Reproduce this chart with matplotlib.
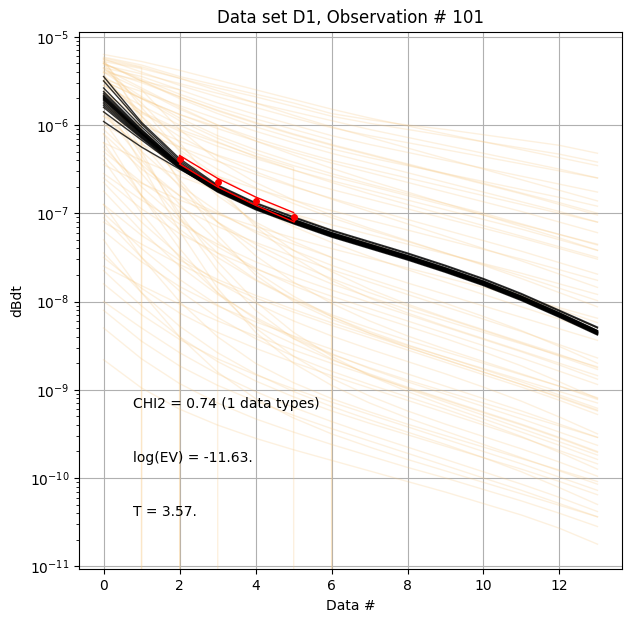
import numpy as np
from matplotlib import pyplot as plt

# data index (gate number)
data_id = np.arange(14)

# log10(0) -> curve value is exactly zero for that gate
Z = -np.inf

# prior realisations, log10(dBdt)
prior_slow = [
    [-5.23, -5.32, -5.45, -5.55, -5.65, -5.75, -5.87, -5.94, -6.00, -6.05, -6.11, -6.17, -6.23, -6.32],
    [-5.28, -5.36, -5.47, -5.58, -5.68, -5.79, -5.90, -5.98, -6.05, -6.12, -6.19, -6.26, -6.33, -6.42],
    [-5.25, -5.40, -5.55, -5.68, -5.80, -5.92, -6.03, -6.12, -6.20, -6.28, -6.36, -6.44, -6.52, -6.60],
    [-5.35, -5.45, -5.60, -5.75, -5.88, -6.00, -6.12, -6.22, -6.31, -6.40, -6.49, -6.58, -6.67, -6.76],
    [-5.30, -5.50, -5.70, -5.87, -6.02, -6.15, -6.27, -6.37, -6.46, -6.55, -6.64, -6.73, -6.82, -6.92],
    [-5.40, -5.60, -5.82, -6.00, -6.15, -6.28, -6.40, -6.50, -6.60, -6.70, -6.80, -6.90, -7.00, -7.10],
    [-5.45, -5.70, -5.95, -6.15, -6.32, -6.46, -6.58, -6.69, -6.80, -6.91, -7.02, -7.13, -7.24, -7.35],
    [-5.32, -5.42, -5.53, -5.64, -5.75, -5.85, -5.95, -6.05, -6.14, -6.23, -6.32, -6.41, -6.50, -6.60],
    [-5.20, -5.28, -5.38, -5.49, -5.60, -5.71, -5.82, -5.92, -6.01, -6.10, -6.19, -6.28, -6.37, -6.46],
    [-5.24, -5.34, -5.47, -5.61, -5.75, -5.89, -6.02, -6.14, -6.26, -6.38, -6.50, -6.62, -6.74, -6.86],
]
prior_gentle = [
    [-5.30, -5.50, -5.68, -5.84, -5.98, -6.11, -6.23, -6.34, -6.45, -6.56, -6.67, -6.78, -6.90, -7.02],
    [-5.50, -5.70, -5.88, -6.04, -6.18, -6.31, -6.43, -6.54, -6.65, -6.76, -6.87, -6.98, -7.10, -7.22],
    [-5.65, -5.87, -6.07, -6.24, -6.38, -6.51, -6.63, -6.74, -6.85, -6.96, -7.07, -7.18, -7.30, -7.42],
    [-5.80, -6.00, -6.18, -6.34, -6.48, -6.61, -6.73, -6.84, -6.95, -7.06, -7.17, -7.28, -7.40, -7.52],
    [-6.00, -6.22, -6.42, -6.58, -6.72, -6.85, -6.97, -7.08, -7.19, -7.30, -7.41, -7.52, -7.64, -7.76],
    [-6.20, -6.40, -6.58, -6.74, -6.88, -7.01, -7.13, -7.24, -7.35, -7.46, -7.57, -7.68, -7.80, -7.92],
    [-6.45, -6.66, -6.85, -7.01, -7.15, -7.28, -7.40, -7.51, -7.62, -7.73, -7.84, -7.95, -8.07, -8.19],
    [-5.40, -5.68, -5.92, -6.12, -6.28, -6.42, -6.55, -6.67, -6.78, -6.89, -7.00, -7.12, -7.24, -7.36],
    [-5.38, -5.52, -5.68, -5.83, -5.97, -6.10, -6.22, -6.33, -6.44, -6.55, -6.66, -6.77, -6.88, -7.00],
    [-5.36, -5.58, -5.80, -6.00, -6.18, -6.34, -6.49, -6.63, -6.76, -6.89, -7.02, -7.15, -7.28, -7.42],
    [-5.48, -5.62, -5.78, -5.93, -6.07, -6.20, -6.32, -6.43, -6.54, -6.65, -6.76, -6.87, -6.98, -7.10],
    [-5.90, -6.08, -6.25, -6.41, -6.56, -6.70, -6.83, -6.95, -7.07, -7.19, -7.31, -7.43, -7.56, -7.69],
    [-6.55, -6.85, -7.12, -7.35, -7.55, -7.72, -7.87, -8.01, -8.15, -8.29, -8.43, -8.57, -8.72, -8.88],
    [-7.10, -7.35, -7.58, -7.78, -7.96, -8.12, -8.27, -8.41, -8.55, -8.69, -8.83, -8.97, -9.12, -9.28],
    [-7.60, -7.82, -8.03, -8.22, -8.39, -8.55, -8.70, -8.84, -8.98, -9.12, -9.26, -9.40, -9.55, -9.71],
]
prior_mid = [
    [-5.50, -5.85, -6.13, -6.35, -6.53, -6.69, -6.84, -6.98, -7.12, -7.26, -7.40, -7.54, -7.69, -7.84],
    [-5.90, -6.25, -6.53, -6.75, -6.93, -7.09, -7.24, -7.38, -7.52, -7.66, -7.80, -7.94, -8.09, -8.24],
    [-6.30, -6.65, -6.93, -7.15, -7.33, -7.49, -7.64, -7.78, -7.92, -8.06, -8.20, -8.34, -8.49, -8.64],
    [-6.60, -6.95, -7.23, -7.45, -7.63, -7.79, -7.94, -8.08, -8.22, -8.36, -8.50, -8.64, -8.79, -8.94],
    [-6.90, -7.25, -7.53, -7.75, -7.93, -8.09, -8.24, -8.38, -8.52, -8.66, -8.80, -8.94, -9.09, -9.24],
    [-7.20, -7.55, -7.83, -8.05, -8.23, -8.39, -8.54, -8.68, -8.82, -8.96, -9.10, -9.24, -9.39, -9.54],
    [-7.50, -7.85, -8.13, -8.35, -8.53, -8.69, -8.84, -8.98, -9.12, -9.26, -9.40, -9.54, -9.69, -9.84],
    [-7.80, -8.15, -8.43, -8.65, -8.83, -8.99, -9.14, -9.28, -9.42, -9.56, -9.70, -9.84, -9.99, -10.14],
    [-8.10, -8.45, -8.73, -8.95, -9.13, -9.29, -9.44, -9.58, -9.72, -9.86, -10.00, -10.14, -10.29, -10.44],
    [-5.55, -5.78, -6.00, -6.19, -6.36, -6.51, -6.65, -6.78, -6.90, -7.02, -7.14, -7.26, -7.38, -7.50],
    [-5.62, -5.95, -6.25, -6.50, -6.71, -6.89, -7.05, -7.19, -7.32, -7.45, -7.58, -7.71, -7.85, -7.99],
    [-5.75, -6.10, -6.42, -6.70, -6.94, -7.15, -7.33, -7.49, -7.64, -7.78, -7.92, -8.06, -8.20, -8.35],
    [-6.05, -6.45, -6.80, -7.10, -7.35, -7.56, -7.74, -7.90, -8.05, -8.19, -8.33, -8.47, -8.62, -8.77],
    [-7.00, -7.40, -7.75, -8.04, -8.28, -8.48, -8.66, -8.82, -8.97, -9.11, -9.25, -9.39, -9.54, -9.70],
    [-7.65, -8.05, -8.40, -8.68, -8.90, -9.08, -9.24, -9.38, -9.51, -9.64, -9.77, -9.90, -10.04, -10.19],
    [-8.30, -8.65, -8.93, -9.15, -9.33, -9.48, -9.62, -9.75, -9.88, -10.00, -10.13, -10.26, -10.40, -10.55],
    [-8.00, -8.30, -8.58, -8.82, -9.02, -9.20, -9.36, -9.51, -9.65, -9.79, -9.93, -10.07, -10.22, -10.38],
]
prior_fast = [
    [-5.45, -5.90, -6.28, -6.58, -6.82, -7.02, -7.19, -7.34, -7.48, -7.62, -7.77, -7.93, -8.11, -8.30],
    [-5.85, -6.30, -6.68, -6.98, -7.22, -7.42, -7.59, -7.74, -7.88, -8.02, -8.17, -8.33, -8.51, -8.70],
    [-6.25, -6.70, -7.08, -7.38, -7.62, -7.82, -7.99, -8.14, -8.28, -8.42, -8.57, -8.73, -8.91, -9.10],
    [-6.65, -7.10, -7.48, -7.78, -8.02, -8.22, -8.39, -8.54, -8.68, -8.82, -8.97, -9.13, -9.31, -9.50],
    [-7.05, -7.50, -7.88, -8.18, -8.42, -8.62, -8.79, -8.94, -9.08, -9.22, -9.37, -9.53, -9.71, -9.90],
    [-7.45, -7.90, -8.28, -8.58, -8.82, -9.02, -9.19, -9.34, -9.48, -9.62, -9.77, -9.93, -10.11, -10.30],
    [-8.66, -8.98, -9.22, -9.40, -9.55, -9.68, -9.80, -9.92, -10.04, -10.16, -10.29, -10.42, -10.57, -10.75],
    [-5.30, -5.90, -6.40, -6.80, -7.10, -7.32, -7.50, -7.65, -7.79, -7.92, -8.05, -8.18, -8.31, -8.44],
    [-5.60, -6.20, -6.70, -7.10, -7.40, -7.62, -7.80, -7.95, -8.09, -8.22, -8.35, -8.48, -8.61, -8.74],
    [-5.95, -6.55, -7.05, -7.45, -7.75, -7.97, -8.15, -8.30, -8.44, -8.57, -8.70, -8.83, -8.96, -9.09],
    [-6.40, -7.00, -7.50, -7.90, -8.20, -8.42, -8.60, -8.75, -8.89, -9.02, -9.15, -9.28, -9.41, -9.54],
    [-6.90, -7.50, -8.00, -8.40, -8.70, -8.92, -9.10, -9.25, -9.39, -9.52, -9.65, -9.78, -9.91, -10.04],
    [-7.30, -7.90, -8.40, -8.80, -9.10, -9.32, -9.50, -9.65, -9.79, -9.92, -10.05, -10.18, -10.31, -10.44],
    [-5.25, -5.95, -6.65, -7.25, -7.70, -8.00, -8.20, -8.36, -8.50, -8.63, -8.76, -8.89, -9.02, -9.15],
    [-5.50, -6.30, -7.05, -7.65, -8.10, -8.42, -8.65, -8.83, -8.99, -9.14, -9.29, -9.44, -9.59, -9.74],
    [-5.35, -5.75, -6.20, -6.70, -7.15, -7.50, -7.76, -7.96, -8.13, -8.28, -8.42, -8.56, -8.70, -8.84],
    [-5.70, -6.45, -7.20, -7.85, -8.35, -8.70, -8.95, -9.15, -9.32, -9.47, -9.62, -9.77, -9.92, -10.07],
    [-6.35, -6.80, -7.18, -7.50, -7.76, -7.98, -8.17, -8.34, -8.49, -8.63, -8.77, -8.91, -9.06, -9.21],
    [-6.75, -7.20, -7.60, -7.92, -8.18, -8.40, -8.59, -8.76, -8.91, -9.05, -9.19, -9.33, -9.48, -9.63],
    [-5.28, -5.80, -6.30, -6.75, -7.12, -7.42, -7.66, -7.86, -8.03, -8.18, -8.32, -8.46, -8.60, -8.75],
    [-5.42, -6.05, -6.62, -7.10, -7.48, -7.78, -8.02, -8.22, -8.39, -8.54, -8.68, -8.82, -8.96, -9.11],
    [-5.65, -6.35, -7.00, -7.55, -8.00, -8.35, -8.62, -8.84, -9.02, -9.18, -9.33, -9.48, -9.63, -9.79],
    [-6.10, -6.80, -7.40, -7.90, -8.30, -8.62, -8.87, -9.07, -9.24, -9.39, -9.53, -9.67, -9.82, -9.98],
    [-5.85, -6.40, -6.90, -7.32, -7.66, -7.94, -8.17, -8.36, -8.52, -8.66, -8.80, -8.94, -9.08, -9.23],
]
# realisations that drop to zero
prior_zero = [
    [-5.26, -5.35, Z, Z, Z, Z, Z, Z, Z, Z, Z, Z, Z, Z],
    [Z, -5.60, -6.05, -6.40, -6.65, -6.85, -7.02, -7.17, -7.31, -7.45, -7.59, -7.74, -7.90, -8.06],
    [-5.40, -5.50, -5.60, Z, Z, Z, Z, Z, Z, Z, Z, Z, Z, Z],
    [-6.20, -6.80, -7.30, Z, Z, Z, Z, Z, Z, Z, Z, Z, Z, Z],
    [-5.50, -5.70, -5.88, -6.02, Z, Z, Z, Z, Z, Z, Z, Z, Z, Z],
    [-5.55, -5.85, -6.05, -6.20, -6.35, -6.48, Z, Z, Z, Z, Z, Z, Z, Z],
    [-5.30, -5.48, -5.65, -5.80, -5.93, -6.05, -6.17, Z, Z, Z, Z, Z, Z, Z],
    [-6.10, -6.50, -6.80, -7.00, -7.20, -7.35, -7.50, Z, Z, Z, Z, Z, Z, Z],
]

# posterior realisations, log10(dBdt)
post = [
    [-5.45, -5.97, -6.38, -6.68, -6.88, -7.04, -7.19, -7.32, -7.45, -7.59, -7.74, -7.91, -8.10, -8.29],
    [-5.50, -5.99, -6.40, -6.69, -6.89, -7.05, -7.20, -7.33, -7.46, -7.60, -7.75, -7.92, -8.11, -8.30],
    [-5.58, -6.02, -6.42, -6.70, -6.91, -7.07, -7.22, -7.35, -7.48, -7.62, -7.77, -7.94, -8.13, -8.33],
    [-5.62, -6.05, -6.44, -6.71, -6.91, -7.07, -7.22, -7.35, -7.48, -7.62, -7.77, -7.94, -8.13, -8.33],
    [-5.64, -6.06, -6.44, -6.72, -6.92, -7.08, -7.23, -7.36, -7.49, -7.63, -7.78, -7.95, -8.14, -8.34],
    [-5.66, -6.07, -6.45, -6.72, -6.92, -7.08, -7.23, -7.36, -7.49, -7.63, -7.78, -7.95, -8.14, -8.34],
    [-5.67, -6.08, -6.45, -6.72, -6.92, -7.08, -7.23, -7.36, -7.49, -7.63, -7.78, -7.95, -8.14, -8.34],
    [-5.68, -6.09, -6.46, -6.73, -6.93, -7.09, -7.24, -7.37, -7.50, -7.64, -7.79, -7.96, -8.15, -8.35],
    [-5.69, -6.09, -6.46, -6.73, -6.93, -7.09, -7.24, -7.37, -7.50, -7.64, -7.79, -7.96, -8.15, -8.35],
    [-5.70, -6.10, -6.46, -6.73, -6.93, -7.09, -7.24, -7.37, -7.50, -7.64, -7.79, -7.96, -8.15, -8.35],
    [-5.71, -6.10, -6.47, -6.74, -6.94, -7.10, -7.25, -7.38, -7.51, -7.65, -7.80, -7.97, -8.16, -8.36],
    [-5.72, -6.11, -6.47, -6.74, -6.94, -7.10, -7.25, -7.38, -7.51, -7.65, -7.80, -7.97, -8.16, -8.36],
    [-5.74, -6.12, -6.47, -6.74, -6.94, -7.10, -7.25, -7.38, -7.51, -7.65, -7.80, -7.97, -8.16, -8.36],
    [-5.76, -6.13, -6.48, -6.75, -6.95, -7.11, -7.26, -7.39, -7.52, -7.66, -7.81, -7.98, -8.17, -8.37],
    [-5.78, -6.14, -6.48, -6.75, -6.95, -7.11, -7.26, -7.39, -7.52, -7.66, -7.81, -7.98, -8.17, -8.37],
    [-5.80, -6.15, -6.49, -6.76, -6.96, -7.12, -7.27, -7.40, -7.53, -7.67, -7.82, -7.99, -8.18, -8.38],
    [-5.85, -6.17, -6.49, -6.75, -6.95, -7.11, -7.26, -7.39, -7.52, -7.66, -7.81, -7.98, -8.17, -8.37],
    [-5.96, -6.25, -6.50, -6.74, -6.93, -7.09, -7.24, -7.37, -7.50, -7.64, -7.79, -7.96, -8.15, -8.35],
]

# observed data
obs_id = [2, 3, 4, 5]
d_obs = [4.07e-7, 2.24e-7, 1.38e-7, 9.1e-8]
d_std = [0.45e-7, 0.25e-7, 0.15e-7, 0.11e-7]

chi2 = 0.74
log_ev = -11.63
T = 3.57

##

fig = plt.figure(figsize=(6.31, 6.23), dpi=100)
ax = fig.add_axes([0.125, 0.086, 0.861, 0.863])

d_prior = 10.0 ** np.array(prior_slow + prior_gentle + prior_mid + prior_fast + prior_zero)
d_post = 10.0 ** np.array(post)

ax.semilogy(data_id, d_prior.T, color=(0.97, 0.78, 0.5), alpha=0.25, lw=1.0)
ax.semilogy(data_id, d_post.T, color='k', alpha=0.8, lw=1.0)

d_obs = np.array(d_obs)
d_std = np.array(d_std)
ax.errorbar(obs_id, d_obs, yerr=d_std, fmt='r.', markersize=8, lw=1)
ax.plot(obs_id, d_obs + d_std, 'r-', lw=1)
ax.plot(obs_id, d_obs - d_std, 'r-', lw=1)

ax.set_xlim(-0.65, 13.65)
ax.set_ylim(9.2e-12, 1.14e-5)
ax.grid(True)
ax.set_xlabel("Data #")
ax.set_ylabel("dBdt")
ax.set_title("Data set D1, Observation # 101")

ax.text(0.1, 0.3, "CHI2 = %.2f (1 data types)" % chi2, transform=ax.transAxes)
ax.text(0.1, 0.2, "log(EV) = %.2f." % log_ev, transform=ax.transAxes)
ax.text(0.1, 0.1, "T = %.2f." % T, transform=ax.transAxes)

plt.savefig("out.png")
